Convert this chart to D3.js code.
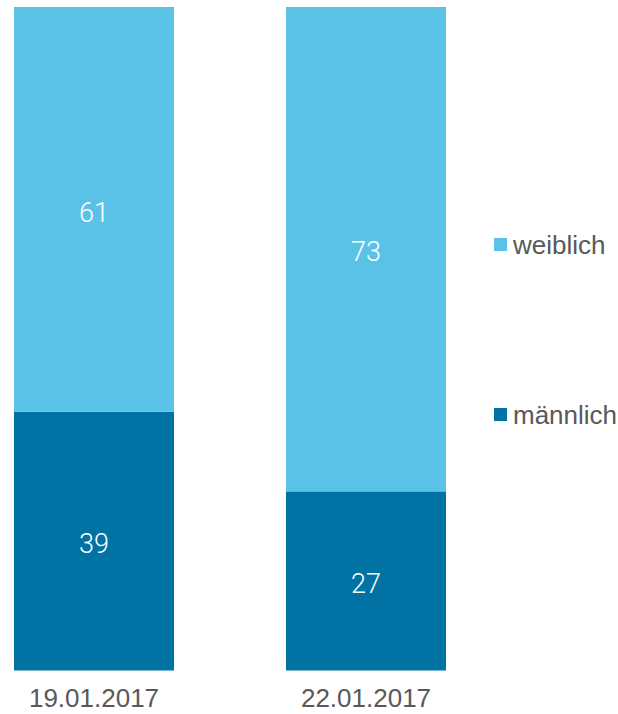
<!DOCTYPE html>
<html>
<head>
<meta charset="utf-8">
<script src="https://cdn.jsdelivr.net/npm/d3@7"></script>
<style>
  html, body { margin: 0; padding: 0; background: #fff; }
  svg { display: block; }
</style>
</head>
<body>
<svg id="chart" width="618" height="714"></svg>
<script>
// Dates on the x axis
const categories = ["19.01.2017", "22.01.2017"];
// Share in percent per date
const maennlich = [39, 27];
const weiblich = [61, 73];
// Legend entries, top to bottom
const legendLabels = ["weiblich", "männlich"];

const colors = { "weiblich": "#5bc2e7", "männlich": "#0072a3" };

const svg = d3.select("#chart");

// bars 160 px wide, left edges 272 px apart
const barW = 160;
const xPos = d3.scalePoint().domain(categories).range([14, 286]);
const y = d3.scaleLinear().domain([0, 100]).range([670.5, 7]);

const rows = categories.map((c, i) => ({ cat: c, "männlich": maennlich[i], "weiblich": weiblich[i] }));
const series = d3.stack().keys(["männlich", "weiblich"])(rows);

const g = svg.append("g");

series.forEach(s => {
  g.selectAll(null)
    .data(s)
    .join("rect")
    .attr("x", d => xPos(d.data.cat))
    .attr("width", barW)
    .attr("y", d => y(d[1]))
    .attr("height", d => y(d[0]) - y(d[1]))
    .attr("fill", colors[s.key]);

  g.selectAll(null)
    .data(s)
    .join("text")
    .attr("x", d => xPos(d.data.cat) + barW / 2)
    .attr("y", d => (y(d[0]) + y(d[1])) / 2)
    .attr("dy", "0.45em")
    .attr("text-anchor", "middle")
    .attr("fill", "#ffffff")
    .style("font-family", "Roboto, 'Liberation Sans', sans-serif")
    .style("font-weight", 300)
    .style("font-size", "27px")
    .text(d => d[1] - d[0]);
});

// date labels under the bars
svg.append("g")
  .selectAll("text")
  .data(categories)
  .join("text")
  .attr("x", d => xPos(d) + barW / 2)
  .attr("y", 707)
  .attr("text-anchor", "middle")
  .attr("fill", "#595959")
  .style("font-family", "'Liberation Sans', Arial, sans-serif")
  .style("font-size", "26px")
  .text(d => d);

// legend
const legendY = { "weiblich": 245, "männlich": 415 };
const lg = svg.append("g");
legendLabels.forEach(k => {
  lg.append("rect")
    .attr("x", 494)
    .attr("y", legendY[k] - 7)
    .attr("width", 13)
    .attr("height", 13)
    .attr("fill", colors[k]);
  lg.append("text")
    .attr("x", 513)
    .attr("y", legendY[k])
    .attr("dy", "0.35em")
    .attr("fill", "#595959")
    .style("font-family", "'Liberation Sans', Arial, sans-serif")
    .style("font-size", "26px")
    .text(k);
});
</script>
</body>
</html>
